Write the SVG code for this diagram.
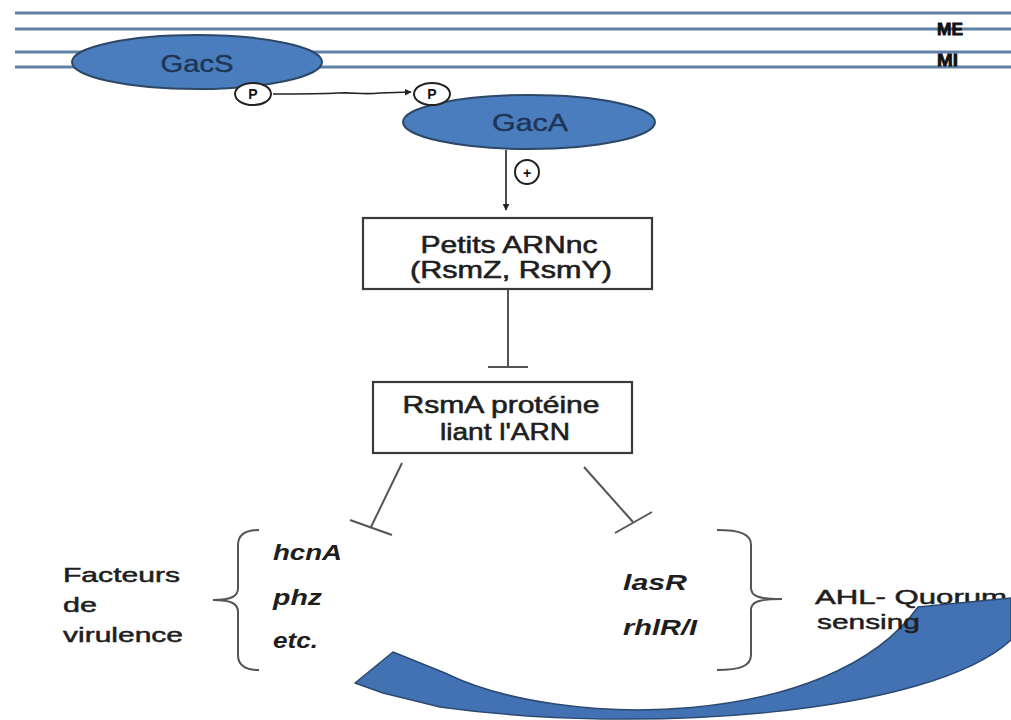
<svg xmlns="http://www.w3.org/2000/svg" width="1011" height="720" viewBox="0 0 1011 720">
<defs>
<style>
.mem{stroke:#5f82a6;stroke-width:3;fill:none}
.ell{fill:#4a7dbd;stroke:#2d4766;stroke-width:2}
.etx{font-family:"Liberation Sans",Arial,sans-serif;font-size:23px;fill:#1d3557;text-anchor:middle;stroke:#1d3557;stroke-width:0.4}
.box{fill:#fff;stroke:#3a3a3a;stroke-width:2.2}
.btx{font-family:"Liberation Sans",Arial,sans-serif;font-size:24px;fill:#1e1e1e;text-anchor:middle;stroke:#1e1e1e;stroke-width:0.6}
.lbl{font-family:"Liberation Sans",Arial,sans-serif;font-size:21px;fill:#1e1e1e;stroke:#1e1e1e;stroke-width:0.5}
.gene{font-family:"Liberation Sans",Arial,sans-serif;font-size:22px;font-weight:bold;font-style:italic;fill:#1e1e1e}
.ln{stroke:#555;stroke-width:2;fill:none}
.blk{stroke:#222;stroke-width:1.6;fill:none}
.pc{fill:#fff;stroke:#222;stroke-width:2}
.ptx{font-family:"Liberation Sans",Arial,sans-serif;font-size:14px;font-weight:bold;fill:#111;text-anchor:middle}
.mtx{font-family:"Liberation Sans",Arial,sans-serif;font-size:17px;font-weight:bold;fill:#111;stroke:#111;stroke-width:0.8}
</style>
<marker id="ah" viewBox="0 0 10 10" refX="9" refY="5" markerWidth="7" markerHeight="7" markerUnits="userSpaceOnUse" orient="auto">
<path d="M0,0 L10,5 L0,10 z" fill="#222"/>
</marker>
</defs>
<rect width="1011" height="720" fill="#fff"/>

<g id="membranes">
<line class="mem" x1="15" y1="13" x2="1011" y2="13"/>
<line class="mem" x1="15" y1="29" x2="1011" y2="29"/>
<line class="mem" x1="15" y1="52" x2="1011" y2="52"/>
<line class="mem" x1="15" y1="67" x2="1011" y2="67"/>
<text class="mtx" x="937" y="35" textLength="26" lengthAdjust="spacingAndGlyphs">ME</text>
<text class="mtx" x="937" y="66" textLength="21" lengthAdjust="spacingAndGlyphs">MI</text>
</g>

<g id="connectors">
<path class="blk" d="M273 94 C300 94,320 94,338 93 C355 92,360 95,380 93 L411 92" marker-end="url(#ah)"/>
<line class="blk" x1="506" y1="150" x2="506" y2="210" marker-end="url(#ah)"/>
<line class="ln" x1="508" y1="289" x2="508" y2="367"/>
<line class="ln" x1="488" y1="367" x2="528" y2="367"/>
<line class="ln" x1="402" y1="463" x2="371" y2="527"/>
<line class="ln" x1="350" y1="520" x2="392" y2="535"/>
<line class="ln" x1="584" y1="467" x2="633" y2="522"/>
<line class="ln" x1="615" y1="533" x2="652" y2="512"/>
</g>

<g id="gacs">
<ellipse class="ell" cx="197" cy="62" rx="125" ry="27"/>
<text class="etx" x="197" y="72" textLength="73" lengthAdjust="spacingAndGlyphs">GacS</text>
</g>
<g id="p1">
<ellipse class="pc" cx="253" cy="94" rx="18" ry="11"/>
<text class="ptx" x="253" y="99">P</text>
</g>
<g id="gaca">
<ellipse class="ell" cx="529" cy="122" rx="126" ry="27"/>
<text class="etx" x="530" y="131" textLength="76" lengthAdjust="spacingAndGlyphs">GacA</text>
</g>
<g id="p2">
<ellipse class="pc" cx="432" cy="94" rx="18" ry="11"/>
<text class="ptx" x="432" y="99">P</text>
</g>
<g id="plus">
<circle class="pc" cx="527" cy="172" r="12" stroke-width="1.8"/>
<text class="ptx" x="527" y="178" font-size="17">+</text>
</g>

<g id="petits-arnnc">
<rect class="box" x="363" y="218" width="289" height="71"/>
<text class="btx" x="509" y="253" textLength="177" lengthAdjust="spacingAndGlyphs">Petits ARNnc</text>
<text class="btx" x="511" y="278" textLength="202" lengthAdjust="spacingAndGlyphs">(RsmZ, RsmY)</text>
</g>

<g id="rsma">
<rect class="box" x="373" y="382" width="259" height="71"/>
<text class="btx" x="501" y="413" textLength="197" lengthAdjust="spacingAndGlyphs">RsmA protéine</text>
<text class="btx" x="505" y="440" textLength="130" lengthAdjust="spacingAndGlyphs">liant l'ARN</text>
</g>

<g id="virulence">
<text class="lbl" x="63" y="582" textLength="117" lengthAdjust="spacingAndGlyphs">Facteurs</text>
<text class="lbl" x="63" y="612" textLength="34" lengthAdjust="spacingAndGlyphs">de</text>
<text class="lbl" x="63" y="642" textLength="120" lengthAdjust="spacingAndGlyphs">virulence</text>
<path class="ln" d="M259 530 C246 530,238 534,238 545 L238 588 C238 596,232 600,213 600 C232 600,238 604,238 612 L238 655 C238 666,246 670,259 670"/>
<text class="gene" x="273" y="560" textLength="69" lengthAdjust="spacingAndGlyphs">hcnA</text>
<text class="gene" x="273" y="605" textLength="49" lengthAdjust="spacingAndGlyphs">phz</text>
<text class="gene" x="273" y="648" textLength="45" lengthAdjust="spacingAndGlyphs">etc.</text>
</g>

<g id="quorum">
<text class="gene" x="623" y="590" textLength="64" lengthAdjust="spacingAndGlyphs">lasR</text>
<text class="gene" x="623" y="635" textLength="74" lengthAdjust="spacingAndGlyphs">rhlR/I</text>
<path class="ln" d="M717 530 C740 530,751 534,751 545 L751 588 C751 596,758 599,782 599 C758 599,751 602,751 610 L751 655 C751 666,740 670,717 670"/>
<text class="lbl" x="815" y="604" textLength="192" lengthAdjust="spacingAndGlyphs">AHL- Quorum</text>
</g>

<g id="feedback-arrow">
<path d="M355 683 L393 652 L445 673 C560 730,830 730,918 607 L1011 598 L1011 640 C930 715,640 735,440 707 L383 693 Z" fill="#4272b4" stroke="#2c4a70" stroke-width="1.5" stroke-linejoin="round"/>
</g>
<text class="lbl" x="817" y="629" textLength="103" lengthAdjust="spacingAndGlyphs">sensing</text>
</svg>
